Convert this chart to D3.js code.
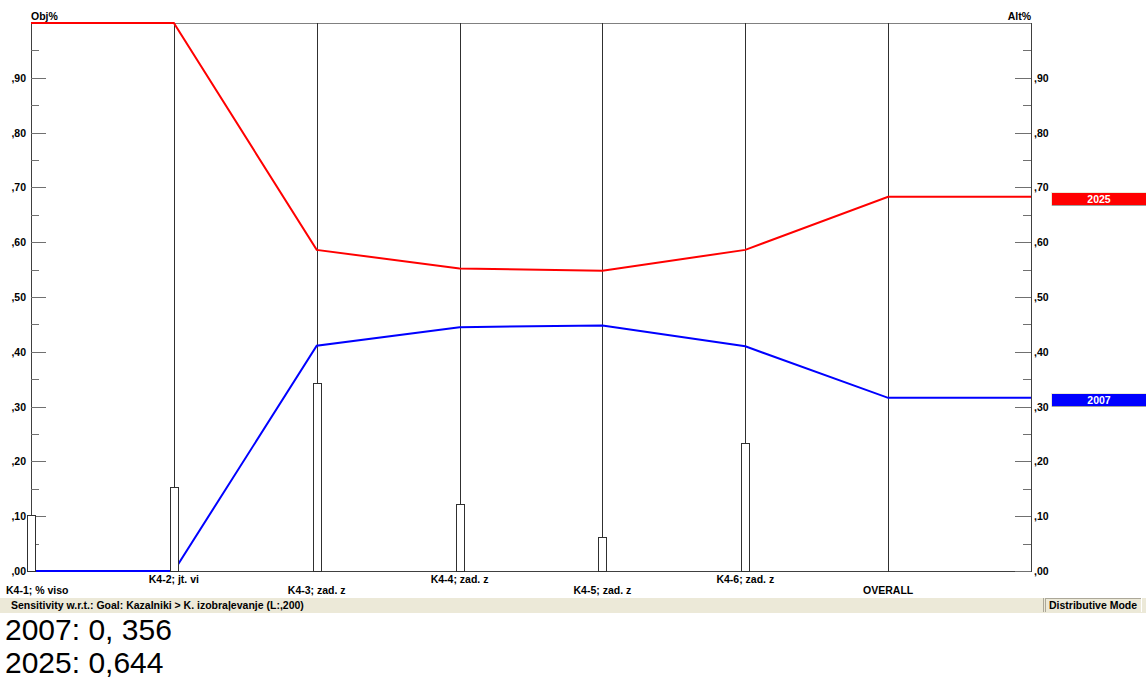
<!DOCTYPE html>
<html>
<head>
<meta charset="utf-8">
<script src="https://cdn.jsdelivr.net/npm/d3@7"></script>
<style>
  body { margin: 0; background: #fff; }
  svg { display: block; }
  .lbl { font-family: "Liberation Sans", Arial, sans-serif; font-size: 10.5px; font-weight: bold; fill: #000; }
</style>
</head>
<body>
<svg id="chart" width="1146" height="679"></svg>
<script>
// ---- data ----
const categories = ["K4-1; % viso", "K4-2; jt. vi", "K4-3; zad. z", "K4-4; zad. z", "K4-5; zad. z", "K4-6; zad. z", "OVERALL"];
const weights = [0.102, 0.153, 0.343, 0.122, 0.062, 0.234];   // objective % bars
const series2025 = [1.000, 1.000, 0.586, 0.552, 0.548, 0.586, 0.683];
const series2007 = [0.000, 0.000, 0.411, 0.445, 0.448, 0.410, 0.316];
const seriesNames = ["2025", "2007"];
const seriesColors = ["#ff0000", "#0000ff"];
const majorTicks = [0, 0.1, 0.2, 0.3, 0.4, 0.5, 0.6, 0.7, 0.8, 0.9];
const tickLabels = [",00", ",10", ",20", ",30", ",40", ",50", ",60", ",70", ",80", ",90"];
const minorTicks = [0.05, 0.15, 0.25, 0.35, 0.45, 0.55, 0.65, 0.75, 0.85, 0.95];
const statusText = "Sensitivity w.r.t.: Goal: Kazalniki > K. izobraļevanje (L:,200)";
const modeText = "Distributive Mode";
const footerLines = ["2007: 0, 356", "2025: 0,644"];

// ---- layout ----
const svg = d3.select("#chart");
const L = 31, R = 1031, T = 23, B = 571;
const y = d3.scaleLinear().domain([0, 1]).range([B, T]);
const x = d3.scaleLinear().domain([0, categories.length]).range([L, R]);

// frame: top & bottom
svg.append("line").attr("x1", L).attr("x2", R).attr("y1", T + 0.5).attr("y2", T + 0.5).attr("stroke", "#808080");
svg.append("line").attr("x1", L).attr("x2", R).attr("y1", B + 0.5).attr("y2", B + 0.5).attr("stroke", "#404040");

// vertical lines per category + right axis
d3.range(categories.length + 1).forEach(i => {
  svg.append("line")
    .attr("x1", Math.round(x(i)) + 0.5).attr("x2", Math.round(x(i)) + 0.5)
    .attr("y1", T).attr("y2", B + 1)
    .attr("stroke", i === 0 || i === categories.length ? "#404040" : "#303030");
});

// left axis ticks
const gL = svg.append("g");
gL.selectAll("line.maj").data(majorTicks).join("line")
  .attr("x1", L).attr("x2", L + 15)
  .attr("y1", d => Math.round(y(d)) + 0.5).attr("y2", d => Math.round(y(d)) + 0.5)
  .attr("stroke", "#707070");
gL.selectAll("line.min").data(minorTicks).join("line")
  .attr("x1", L).attr("x2", L + 8)
  .attr("y1", d => Math.round(y(d)) + 0.5).attr("y2", d => Math.round(y(d)) + 0.5)
  .attr("stroke", "#707070");
gL.selectAll("text").data(majorTicks).join("text").attr("class", "lbl")
  .attr("x", L - 5).attr("y", d => y(d) + 4).attr("text-anchor", "end")
  .text((d, i) => tickLabels[i]);

// right axis ticks
const gR = svg.append("g");
gR.selectAll("line.maj").data(majorTicks).join("line")
  .attr("x1", R - 16).attr("x2", R)
  .attr("y1", d => Math.round(y(d)) + 0.5).attr("y2", d => Math.round(y(d)) + 0.5)
  .attr("stroke", "#707070");
gR.selectAll("line.min").data(minorTicks).join("line")
  .attr("x1", R - 8).attr("x2", R)
  .attr("y1", d => Math.round(y(d)) + 0.5).attr("y2", d => Math.round(y(d)) + 0.5)
  .attr("stroke", "#707070");
gR.selectAll("text").data(majorTicks).join("text").attr("class", "lbl")
  .attr("x", R + 3).attr("y", d => y(d) + 4).attr("text-anchor", "start")
  .text((d, i) => tickLabels[i]);

// axis titles
svg.append("text").attr("class", "lbl").attr("x", L).attr("y", 20).text("Obj%");
svg.append("text").attr("class", "lbl").attr("x", R).attr("y", 20).attr("text-anchor", "end").text("Alt%");

// series lines (extend last value to right axis)
const lineGen = d3.line().x(d => x(d[0])).y(d => y(d[1]));
[series2025, series2007].forEach((s, k) => {
  const pts = s.map((v, i) => [i, v]);
  pts.push([categories.length, s[s.length - 1]]);
  svg.append("path").attr("d", lineGen(pts))
    .attr("fill", "none").attr("stroke", seriesColors[k]).attr("stroke-width", 2);
});

// weight bars
svg.selectAll("rect.bar").data(weights).join("rect")
  .attr("class", "bar")
  .attr("x", (d, i) => Math.round(x(i)) - 3.5)
  .attr("width", 8)
  .attr("y", d => Math.round(y(d)) + 0.5)
  .attr("height", d => B - Math.round(y(d)))
  .attr("fill", "#fff").attr("stroke", "#303030");

// category labels (staggered rows)
svg.selectAll("text.cat").data(categories).join("text")
  .attr("class", "lbl cat")
  .attr("x", (d, i) => i === 0 ? 6 : x(i))
  .attr("y", (d, i) => i % 2 === 0 ? 594 : 583)
  .attr("text-anchor", (d, i) => i === 0 ? "start" : "middle")
  .text(d => d);

// legend boxes on right
[series2025, series2007].forEach((s, k) => {
  const v = s[s.length - 1];
  const cy = Math.round(y(v)) + 2;
  const g = svg.append("g");
  g.append("rect").attr("x", 1051).attr("y", cy - 7).attr("width", 95).attr("height", 14).attr("fill", "#ece9d8");
  g.append("rect").attr("x", 1052).attr("y", cy - 6).attr("width", 94).attr("height", 12).attr("fill", seriesColors[k]);
  g.append("line").attr("x1", 1052).attr("x2", 1146).attr("y1", cy + 6.5).attr("y2", cy + 6.5).attr("stroke", "#a0a0a0");
  g.append("text").attr("class", "lbl").attr("x", 1099).attr("y", cy + 4)
    .attr("text-anchor", "middle").style("fill", "#fff").text(seriesNames[k]);
});

// status bar
svg.append("rect").attr("x", 0).attr("y", 597).attr("width", 1146).attr("height", 16).attr("fill", "#ece9d8");
svg.append("line").attr("x1", 0).attr("x2", 1146).attr("y1", 597.5).attr("y2", 597.5).attr("stroke", "#fff");
svg.append("line").attr("x1", 1043.5).attr("x2", 1043.5).attr("y1", 598).attr("y2", 612).attr("stroke", "#aca899");
svg.append("line").attr("x1", 1045.5).attr("x2", 1045.5).attr("y1", 598).attr("y2", 612).attr("stroke", "#aca899");
svg.append("line").attr("x1", 1045).attr("x2", 1141).attr("y1", 598.5).attr("y2", 598.5).attr("stroke", "#aca899");
svg.append("line").attr("x1", 1141.5).attr("x2", 1141.5).attr("y1", 598).attr("y2", 612).attr("stroke", "#fff");
svg.append("text").attr("class", "lbl").attr("x", 11).attr("y", 609).text(statusText);
svg.append("text").attr("class", "lbl").attr("x", 1049).attr("y", 609).text(modeText);

// footer text
svg.selectAll("text.foot").data(footerLines).join("text")
  .attr("class", "foot")
  .attr("x", 5).attr("y", (d, i) => 640 + i * 33)
  .style("font-family", "'Liberation Sans', Arial, sans-serif")
  .style("font-size", "30px")
  .text(d => d);
</script>
</body>
</html>
